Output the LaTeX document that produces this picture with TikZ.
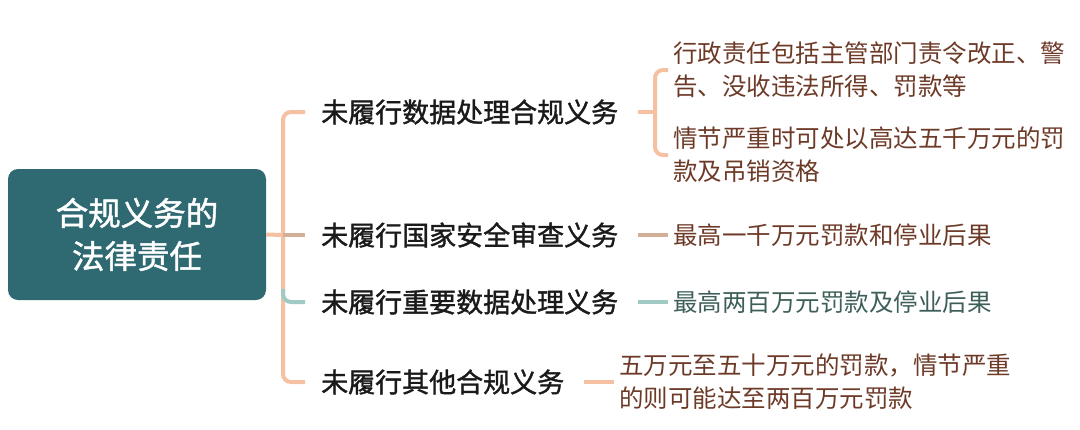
\documentclass[tikz,border=0pt]{standalone}
\usepackage{fontspec}
\setmainfont{Noto Sans CJK SC}
\newfontfamily\cjkmed[FakeBold=1.4]{Noto Sans CJK SC}

\definecolor{rootteal}{HTML}{2F6A72}
\definecolor{peach}{HTML}{F5C1A2}
\definecolor{tanline}{HTML}{D3AF95}
\definecolor{mintline}{HTML}{9FCBC4}
\definecolor{rusttext}{HTML}{6D3A28}
\definecolor{slatetext}{HTML}{3E5F59}
\definecolor{inktext}{HTML}{1A1A1A}

\tikzset{
  rootbox/.style={fill=rootteal, rounded corners=10pt, text=white, align=center,
    minimum width=258pt, minimum height=131pt, font=\cjkmed\fontsize{32.5}{43}\selectfont},
  duty/.style={anchor=west, inner xsep=16pt, text=inktext, font=\cjkmed\fontsize{27}{32}\selectfont},
  penalty/.style={anchor=west, inner xsep=5pt, align=left, font=\fontsize{24.5}{33}\selectfont},
  link/.style={line width=4pt, rounded corners=8pt},
}

\begin{document}
\begin{tikzpicture}[x=1pt, y=-1pt]
\useasboundingbox (0,0) rectangle (1080,429);

\node[rootbox] (root) at (137,234.5) {合规义务的\\法律责任};

\node[duty] (d1) at (305,112) {未履行数据处理合规义务};
\node[duty] (d2) at (305,235) {未履行国家安全审查义务};
\node[duty] (d3) at (305,302) {未履行重要数据处理义务};
\node[duty] (d4) at (305,382) {未履行其他合规义务};

\node[penalty, text=rusttext] (p1a) at (668,70) {行政责任包括主管部门责令改正、警\\告、没收违法所得、罚款等};
\node[penalty, text=rusttext] (p1b) at (668,155) {情节严重时可处以高达五千万元的罚\\款及吊销资格};
\node[penalty, text=rusttext] (p2) at (668,235) {最高一千万元罚款和停业后果};
\node[penalty, text=slatetext] (p3) at (668,302) {最高两百万元罚款及停业后果};
\node[penalty, text=rusttext] (p4) at (614,382) {五万元至五十万元的罚款，情节严重\\的则可能达至两百万元罚款};

% trunk
\coordinate (trunk) at (283,235);
\coordinate (fork3) at (283,289);
\draw[link, peach] (root.east) -- (trunk);
\draw[link, peach] (d1.west) -| (trunk) |- (d4.west);
\draw[link, tanline] (trunk) -- (d2.west);
\draw[link, mintline] (fork3) |- (d3.west);

% second level
\coordinate (fork1) at (655,112);
\draw[link, peach] ([xshift=4pt]d1.east) -- (fork1);
\draw[link, peach] (p1a.west) -| (fork1) |- (p1b.west);
\draw[link, tanline] ([xshift=4pt]d2.east) -- (p2.west);
\draw[link, mintline] ([xshift=4pt]d3.east) -- (p3.west);
\draw[link, peach] ([xshift=4pt]d4.east) -- (p4.west);
\end{tikzpicture}
\end{document}
